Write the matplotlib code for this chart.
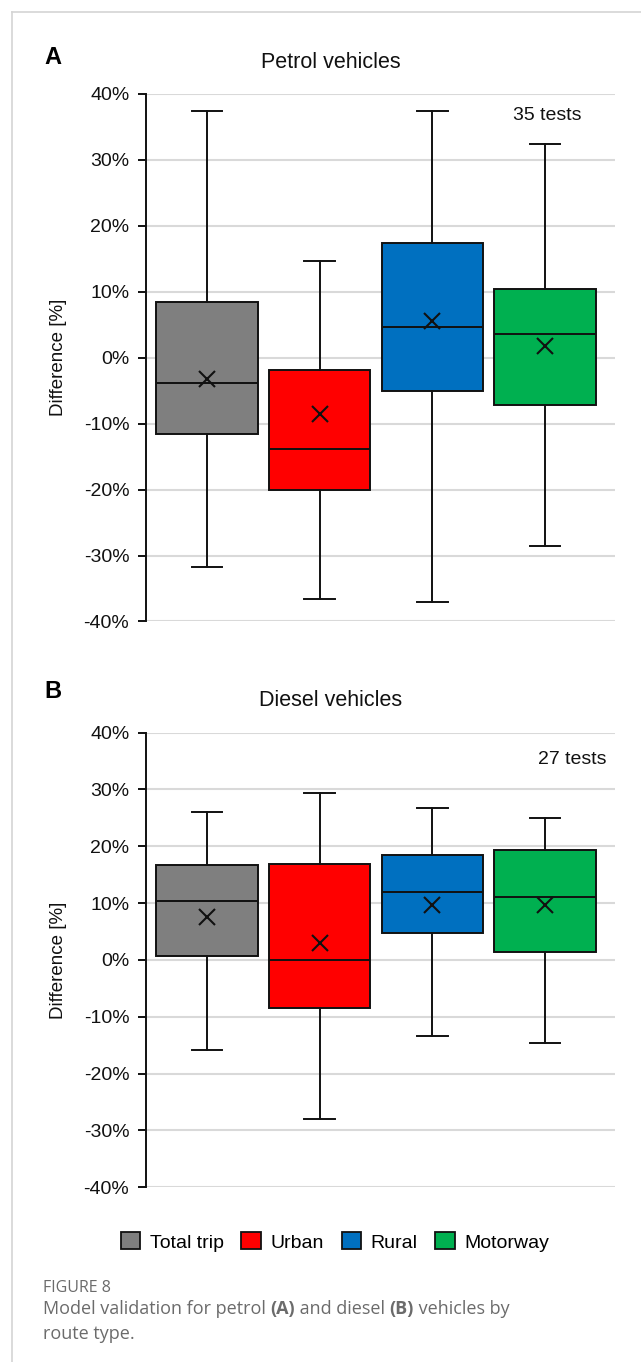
import matplotlib.pyplot as plt
from matplotlib.patches import Patch
from matplotlib.lines import Line2D

plt.rcParams['font.family'] = ['Liberation Sans', 'DejaVu Sans']

routes = ['Total trip', 'Urban', 'Rural', 'Motorway']
colors = ['#7f7f7f', '#ff0000', '#0070c0', '#00b050']

# petrol: whisker low, q1, median, q3, whisker high, mean  (difference in %)
petrol_lo = [-31.8, -36.6, -37.0, -28.5]
petrol_q1 = [-11.5, -20.0, -5.0, -7.1]
petrol_med = [-3.8, -13.8, 4.7, 3.6]
petrol_q3 = [8.5, -1.9, 17.4, 10.4]
petrol_hi = [37.4, 14.6, 37.4, 32.4]
petrol_mean = [-3.2, -8.5, 5.5, 1.8]

# diesel
diesel_lo = [-15.9, -28.0, -13.4, -14.6]
diesel_q1 = [0.7, -8.4, 4.8, 1.4]
diesel_med = [10.3, 0.0, 11.9, 11.0]
diesel_q3 = [16.7, 16.9, 18.4, 19.3]
diesel_hi = [26.1, 29.4, 26.7, 25.0]
diesel_mean = [7.5, 3.0, 9.6, 9.6]

yticks = [-40, -30, -20, -10, 0, 10, 20, 30, 40]

W, H = 641, 1362
fig = plt.figure(figsize=(W / 100, H / 100), dpi=100)


def px_axes(left, top, right, bottom):
    return fig.add_axes([left / W, 1 - bottom / H, (right - left) / W, (bottom - top) / H])


def box_panel(ax, lo, q1, med, q3, hi, mean):
    stats = []
    for i in range(len(routes)):
        stats.append(dict(whislo=lo[i], q1=q1[i], med=med[i], q3=q3[i],
                          whishi=hi[i], mean=mean[i], fliers=[], label=routes[i]))
    lw = 1.4
    bp = ax.bxp(stats, positions=[1, 2, 3, 4], widths=0.9, capwidths=0.27,
                patch_artist=True, showmeans=True, showfliers=False,
                boxprops=dict(edgecolor='#111111', linewidth=lw),
                medianprops=dict(color='#111111', linewidth=lw),
                whiskerprops=dict(color='#111111', linewidth=lw),
                capprops=dict(color='#111111', linewidth=lw),
                meanprops=dict(marker='x', markersize=11, markeredgewidth=1.5,
                               markeredgecolor='#111111'))
    for patch, c in zip(bp['boxes'], colors):
        patch.set_facecolor(c)
        patch.set_zorder(3)
    for k in ['medians', 'whiskers', 'caps', 'means']:
        for art in bp[k]:
            art.set_zorder(4)

    ax.set_xlim(0.459, 4.62)
    ax.set_ylim(-40, 40)
    ax.set_yticks(yticks)
    ax.set_yticklabels(['%d%%' % v for v in yticks])
    ax.set_xticks([])
    for s in ['top', 'right', 'bottom']:
        ax.spines[s].set_visible(False)
    ax.spines['left'].set_linewidth(1.4)
    ax.spines['left'].set_color('#111111')
    ax.tick_params(axis='y', length=6, width=1.4, color='#111111', pad=6,
                   labelsize=14, labelcolor='#111111')
    ax.yaxis.grid(True, color='#d9d9d9', linewidth=1.5)
    ax.set_axisbelow(True)
    ax.set_ylabel('Difference [%]', fontsize=13.5, color='#111111', labelpad=12)


axA = px_axes(146, 94, 615, 621.5)
box_panel(axA, petrol_lo, petrol_q1, petrol_med, petrol_q3, petrol_hi, petrol_mean)
axB = px_axes(146, 732.6, 615, 1187.3)
box_panel(axB, diesel_lo, diesel_q1, diesel_med, diesel_q3, diesel_hi, diesel_mean)

# panel letters, titles, test counts
fig.text(44 / W, 1 - 57 / H, 'A', fontsize=17, fontweight='bold', va='center', ha='left')
fig.text(44 / W, 1 - 692 / H, 'B', fontsize=17, fontweight='bold', va='center', ha='left')
fig.text(331 / W, 1 - 62 / H, 'Petrol vehicles', fontsize=15.5, va='center', ha='center', color='#111111')
fig.text(331 / W, 1 - 700 / H, 'Diesel vehicles', fontsize=15.5, va='center', ha='center', color='#111111')
fig.text(547 / W, 1 - 116 / H, '35 tests', fontsize=14, va='center', ha='center', color='#111111')
fig.text(572 / W, 1 - 759 / H, '27 tests', fontsize=14, va='center', ha='center', color='#111111')

# legend
handles = [Patch(facecolor=c, edgecolor='#111111', linewidth=1.3) for c in colors]
fig.legend(handles, routes, loc='center', bbox_to_anchor=(335 / W, 1 - 1242 / H),
           ncol=4, frameon=False, fontsize=14, handlelength=1.0, handleheight=0.95,
           handletextpad=0.5, columnspacing=0.9, borderpad=0)

# page frame lines
fig.add_artist(Line2D([11.5 / W, 11.5 / W], [0, 1 - 12 / H], color='#d4d4d4', linewidth=1.2))
fig.add_artist(Line2D([11.5 / W, 1], [1 - 12 / H, 1 - 12 / H], color='#d4d4d4', linewidth=1.2))

# caption, with the panel letters in bold
cap_color = '#6b6b6b'
cf = ['Open Sans', 'DejaVu Sans']
cap_size = 13
fig.text(43 / W, 1 - 1288 / H, 'FIGURE 8', fontsize=11.5, color=cap_color, family=cf,
         va='center', ha='left')
t = fig.text(43 / W, 1 - 1309 / H, 'Model validation for petrol ', fontsize=cap_size,
             color=cap_color, family=cf, va='center', ha='left')
parts = [('(A)', 'bold'), (' and diesel ', 'normal'), ('(B)', 'bold'),
         (' vehicles by', 'normal')]
for txt, wt in parts:
    t = axA.annotate(txt, xy=(1, 0), xycoords=t, va='bottom', ha='left',
                     fontsize=cap_size, color=cap_color, family=cf, fontweight=wt,
                     annotation_clip=False)
fig.text(43 / W, 1 - 1334 / H, 'route type.', fontsize=cap_size, color=cap_color,
         family=cf, va='center', ha='left')

fig.savefig('out.png', dpi=100)
